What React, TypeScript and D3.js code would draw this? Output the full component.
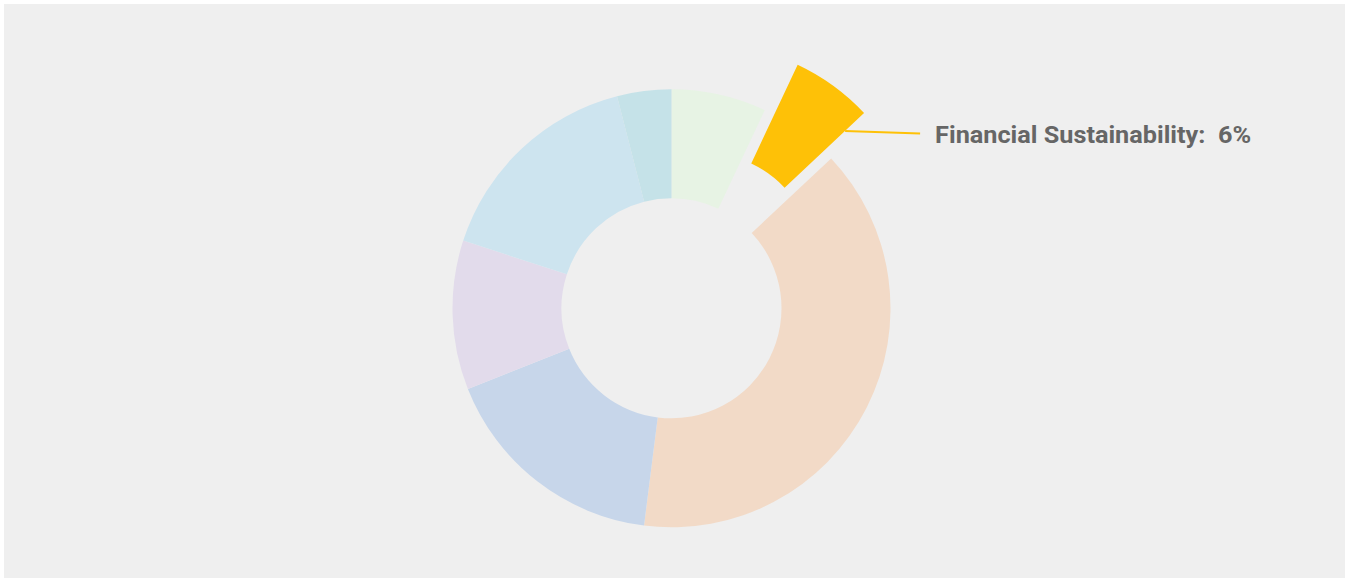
import React from "react";
import * as d3 from "d3";

const categories = ["Category A", "Financial Sustainability", "Category C", "Category D", "Category E", "Category F", "Category G"];
const values = [7, 6, 39, 17, 11, 16, 4];
const colors = ["#e7f3e4", "#fec107", "#f2dac7", "#c7d6ea", "#e2dbeb", "#cde4ef", "#c5e2e8"];
const highlighted = "Financial Sustainability";

const W = 1345;
const H = 578;
const cx = 671.5;
const cy = 308.3;
const innerR = 110;
const outerR = 219;
const slicedOffset = 56;

export default function App() {
  const data = categories.map((c, i) => ({ name: c, value: values[i], color: colors[i] }));
  const pie = d3.pie<any>().sort(null).value((d: any) => d.value).startAngle(0).endAngle(2 * Math.PI);
  const arcs = pie(data);
  const arc = d3.arc<any>().innerRadius(innerR).outerRadius(outerR);
  const total = d3.sum(values);

  const hi = arcs.find((a) => a.data.name === highlighted)!;
  const mid = (hi.startAngle + hi.endAngle) / 2;
  const ox = slicedOffset * Math.sin(mid);
  const oy = -slicedOffset * Math.cos(mid);
  // connector from slice edge
  const cr = 193;
  const x0 = cx + ox + cr * Math.sin(hi.endAngle);
  const y0 = cy + oy - cr * Math.cos(hi.endAngle);
  const x1 = x0 + 75;
  const y1 = y0 + 2.7;
  const pct = Math.round((hi.data.value / total) * 100);

  return (
    <div style={{ position: "fixed", left: 0, top: 0, width: W, height: H, background: "#ffffff" }}>
      <svg width={W} height={H} style={{ display: "block" }}>
        <rect x={4} y={4} width={W - 4} height={H - 4} fill="#efefef" />
        <g transform={`translate(${cx},${cy})`}>
          {arcs.map((a, i) => {
            const isHi = a.data.name === highlighted;
            return (
              <path
                key={i}
                d={arc(a) as string}
                fill={a.data.color}
                transform={isHi ? `translate(${ox},${oy})` : undefined}
              />
            );
          })}
        </g>
        <line x1={x0} y1={y0} x2={x1} y2={y1} stroke="#fec107" strokeWidth={2} />
        <text
          x={x1 + 15}
          y={y1 + 9.5}
          fill="#666666"
          fontFamily="Roboto, 'Open Sans', sans-serif"
          fontWeight={700}
          fontSize={24}
          textLength={316}
          lengthAdjust="spacingAndGlyphs"
          style={{ whiteSpace: "pre" }}
        >
          {`${hi.data.name}:  ${pct}%`}
        </text>
      </svg>
    </div>
  );
}
